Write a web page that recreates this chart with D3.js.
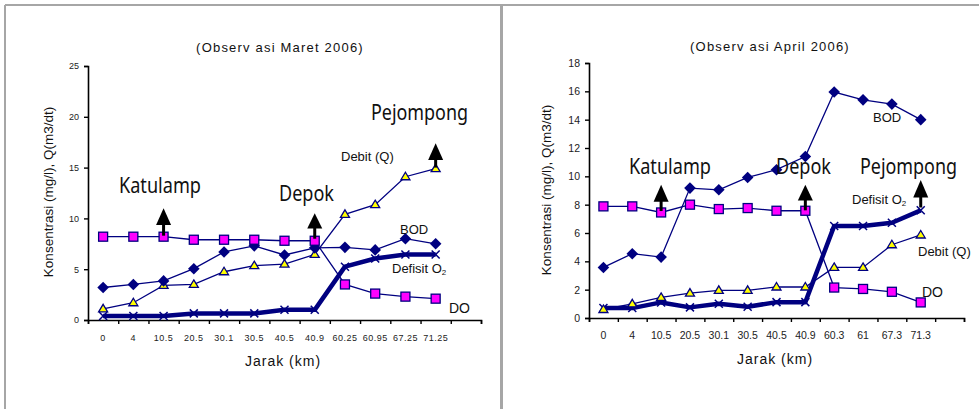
<!DOCTYPE html>
<html><head><meta charset="utf-8">
<script src="https://cdn.jsdelivr.net/npm/d3@7"></script>
<style>body{margin:0;background:#fff}svg{display:block}</style>
</head><body>
<svg id="c" width="979" height="409"></svg>
<script>
// ---- Data ----
const catsMaret = ["0","4","10.5","20.5","30.1","30.5","40.5","40.9","60.25","60.95","67.25","71.25"];
const doMaret = [8.2,8.2,8.2,7.9,7.9,7.9,7.8,7.8,3.5,2.6,2.3,2.1];
const bodMaret = [3.2,3.5,3.85,5.05,6.7,7.3,6.4,7.1,7.15,6.9,8.0,7.5];
const debitMaret = [1.1,1.7,3.4,3.5,4.75,5.35,5.5,6.45,10.4,11.35,14.1,14.9];
const defisitMaret = [0.4,0.4,0.4,0.65,0.65,0.65,1.0,1.0,5.25,6.05,6.45,6.45];
const yTicksMaret = [0,5,10,15,20,25];

const catsApril = ["0","4","10.5","20.5","30.1","30.5","40.5","40.9","60.3","61","67.3","71.3"];
const doApril = [7.88,7.88,7.45,8.0,7.69,7.76,7.57,7.57,2.15,2.05,1.85,1.1];
const bodApril = [3.57,4.54,4.3,9.17,9.05,9.92,10.47,11.4,15.95,15.4,15.1,14.0];
const debitApril = [0.6,1.0,1.45,1.76,1.95,1.95,2.19,2.19,3.57,3.57,5.17,5.86];
const defisitApril = [0.7,0.7,1.1,0.75,1.0,0.8,1.12,1.12,6.5,6.5,6.72,7.6];
const yTicksApril = [0,2,4,6,8,10,12,14,16,18];

const sites = ["Katulamp","Depok","Pejompong"];
const siteIdx = [2,7,11];
const siteWidths = [82,55,97];

const svg = d3.select("#c");
const navy = "#000080";

// frame
svg.append("line").attr("x1",5).attr("x2",979).attr("y1",5).attr("y2",5).attr("stroke","#a6a6a6").attr("stroke-width",2);
svg.append("line").attr("x1",5).attr("x2",5).attr("y1",5).attr("y2",409).attr("stroke","#a6a6a6").attr("stroke-width",2);
svg.append("line").attr("x1",501.5).attr("x2",501.5).attr("y1",5).attr("y2",409).attr("stroke","#a6a6a6").attr("stroke-width",3);

function chart(cfg){
  const g = svg.append("g");
  const n = cfg.cats.length;
  const x = d3.scaleLinear().domain([0,n+1]).range([cfg.x0,cfg.x1]);
  const y = d3.scaleLinear().domain([0,cfg.ymax]).range([cfg.y0,cfg.y1]);
  const cx = i => x(i+0.5);

  g.append("text").attr("x",cfg.titleX).attr("y",cfg.titleY).attr("text-anchor","middle")
   .attr("font-family","Liberation Sans, Arial").attr("font-size",13).attr("letter-spacing",1.2)
   .attr("fill","#111").text(cfg.title);

  const ya = d3.axisLeft(y).tickValues(cfg.yTicks).tickSize(4).tickPadding(5);
  const yg = g.append("g").attr("transform",`translate(${cfg.x0},0)`).call(ya);
  yg.select(".domain").attr("stroke","#000").attr("stroke-width",1.6);
  yg.selectAll(".tick line").attr("stroke","#000").attr("stroke-width",1.4);
  yg.selectAll("text").attr("font-family","Liberation Sans, Arial").attr("font-size",cfg.tickFs).attr("fill","#222");

  const xa = d3.axisBottom(x).tickValues(d3.range(0,n+2)).tickSize(4).tickFormat("");
  const xg = g.append("g").attr("transform",`translate(0,${cfg.y0})`).call(xa);
  xg.select(".domain").attr("stroke","#000").attr("stroke-width",1.6);
  xg.selectAll(".tick line").attr("stroke","#000").attr("stroke-width",1.4);
  g.selectAll(".xl").data(cfg.cats).join("text")
   .attr("x",(d,i)=>cx(i)).attr("y",cfg.y0+21).attr("text-anchor","middle")
   .attr("font-family","Liberation Sans, Arial").attr("font-size",cfg.tickFs).attr("letter-spacing",cfg.tickLs)
   .attr("fill","#222").text(d=>d);

  g.append("text").attr("transform",`translate(${cfg.ylabX},${cfg.ylabY}) rotate(-90)`).attr("text-anchor","middle")
   .attr("font-family","Liberation Sans, Arial").attr("font-size",13.5).attr("fill","#111").text("Konsentrasi (mg/l), Q(m3/dt)");
  g.append("text").attr("x",cfg.xlabX).attr("y",cfg.xlabY).attr("text-anchor","middle")
   .attr("font-family","Liberation Sans, Arial").attr("font-size",14).attr("letter-spacing",1).attr("fill","#111").text("Jarak (km)");

  const line = d3.line().x((d,i)=>cx(i)).y(d=>y(d));

  g.append("path").attr("d",line(cfg.debit)).attr("fill","none").attr("stroke",navy).attr("stroke-width",1.3);
  g.append("path").attr("d",line(cfg.bod)).attr("fill","none").attr("stroke",navy).attr("stroke-width",1.3);
  g.append("path").attr("d",line(cfg.dov)).attr("fill","none").attr("stroke",navy).attr("stroke-width",1.3);
  g.append("path").attr("d",line(cfg.def)).attr("fill","none").attr("stroke",navy).attr("stroke-width",4.5).attr("stroke-linejoin","round");

  cfg.def.forEach((v,i)=>{
    const px=cx(i), py=y(v), s=4;
    g.append("path").attr("d",`M${px-s},${py-s}L${px+s},${py+s}M${px-s},${py+s}L${px+s},${py-s}`)
     .attr("stroke",navy).attr("stroke-width",1.5);
  });
  cfg.debit.forEach((v,i)=>{
    const px=cx(i), py=y(v);
    g.append("path").attr("d",`M${px},${py-4.5}L${px+4.5},${py+3}L${px-4.5},${py+3}Z`)
     .attr("fill","#ffff00").attr("stroke",navy).attr("stroke-width",1.3);
  });
  cfg.bod.forEach((v,i)=>{
    const px=cx(i), py=y(v), s=5.8;
    g.append("path").attr("d",`M${px},${py-s}L${px+s},${py}L${px},${py+s}L${px-s},${py}Z`).attr("fill",navy);
  });
  cfg.dov.forEach((v,i)=>{
    const px=cx(i), py=y(v);
    g.append("rect").attr("x",px-4.5).attr("y",py-4.5).attr("width",9).attr("height",9)
     .attr("fill","#ff00ff").attr("stroke",navy).attr("stroke-width",1.3);
  });

  cfg.labels.forEach(l=>{
    const t = g.append("text").attr("x",l.x).attr("y",l.y).attr("font-family","Liberation Sans, Arial")
      .attr("font-size",l.fs||13).attr("fill","#111");
    if(l.sub){ t.append("tspan").text(l.t); t.append("tspan").attr("font-size",8).attr("dy",2).text(l.sub); }
    else t.text(l.t);
  });

  sites.forEach((s,k)=>{
    const i = siteIdx[k], px = cx(i);
    const a = cfg.arrows[k];
    const tip=y(a[0]), base=y(a[1]), end=y(a[2]);
    g.append("path").attr("d",`M${px},${tip}L${px+7.5},${base}L${px-7.5},${base}Z`).attr("fill","#000");
    g.append("line").attr("x1",px).attr("x2",px).attr("y1",base-1).attr("y2",end).attr("stroke","#000").attr("stroke-width",3);
    g.append("text").attr("x",cfg.siteX[k]).attr("y",cfg.siteY[k]).attr("font-family","Noto Sans, Open Sans, sans-serif")
     .attr("font-size",21).attr("textLength",siteWidths[k]).attr("lengthAdjust","spacingAndGlyphs")
     .attr("fill","#111").text(s);
  });
}

chart({
  cats:catsMaret, dov:doMaret, bod:bodMaret, debit:debitMaret, def:defisitMaret, yTicks:yTicksMaret,
  ymax:25, x0:88, x1:481, y0:320, y1:66, tickFs:9, tickLs:0.5,
  title:"(Observ asi Maret 2006)", titleX:280, titleY:52,
  ylabX:53, ylabY:192, xlabX:283, xlabY:366,
  labels:[{t:"Debit (Q)",x:341,y:161},{t:"BOD",x:400,y:234},{t:"Defisit O",sub:"2",x:392,y:273},{t:"DO",x:449,y:313,fs:14}],
  arrows:[[11.0,9.35,8.3],[10.5,9.0,8.0],[17.4,15.75,15.0]],
  siteX:[119,279,371], siteY:[193,201,120]
});

chart({
  cats:catsApril, dov:doApril, bod:bodApril, debit:debitApril, def:defisitApril, yTicks:yTicksApril,
  ymax:18, x0:589, x1:964, y0:318, y1:63, tickFs:10.5, tickLs:0,
  title:"(Observ asi April 2006)", titleX:770, titleY:51,
  ylabX:551, ylabY:190, xlabX:775, xlabY:364,
  labels:[{t:"BOD",x:873,y:122},{t:"Defisit O",sub:"2",x:852,y:204},{t:"Debit (Q)",x:918,y:256},{t:"DO",x:922,y:297,fs:14}],
  arrows:[[9.4,8.2,7.55],[9.4,8.3,7.6],[9.75,8.5,7.8]],
  siteX:[629,776,860], siteY:[174,174,174]
});
</script>
</body></html>
